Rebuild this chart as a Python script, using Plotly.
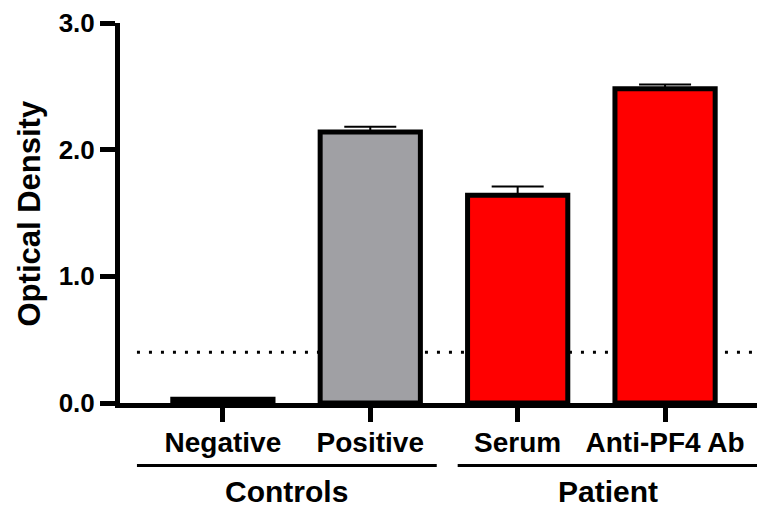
import plotly.graph_objects as go

# ---- data ----
categories = ["Negative", "Positive", "Serum", "Anti-PF4 Ab"]
od_values = [0.03, 2.14, 1.64, 2.48]
od_errors = [0.0, 0.04, 0.07, 0.035]
bar_colors = ["#A0A0A4", "#A0A0A4", "#FF0000", "#FF0000"]
group_labels = ["Controls", "Patient"]
cutoff = 0.4
y_tick_vals = [0, 1, 2, 3]
y_tick_text = ["0.0", "1.0", "2.0", "3.0"]

FONT = "Arial, Liberation Sans, Helvetica, sans-serif"
OFF = 8  # page body margin
W, H = 765 - OFF, 506 - OFF
ML, MT, MB = 120 - OFF, 20 - OFF, H - (403 - OFF)
PH = H - MT - MB
PW = W - ML

def py2paper(page_y):
    return (H - MB - (page_y - OFF)) / PH

def px2paper(page_x):
    return (page_x - OFF - ML) / PW

fig = go.Figure()
fig.add_trace(go.Bar(
    x=categories, y=od_values,
    width=0.68,
    marker=dict(color=bar_colors, line=dict(color="black", width=5)),
    error_y=dict(type="data", array=od_errors, arrayminus=[0]*len(od_errors),
                 symmetric=False, color="black", thickness=2, width=26),
    showlegend=False,
))

shapes = [
    dict(type="line", xref="x", yref="y", x0=-0.583, x1=3.7, y0=cutoff, y1=cutoff,
         line=dict(color="black", width=3, dash="3px,9px"), layer="below"),
    dict(type="line", xref="x", yref="paper", x0=-0.583, x1=1.451,
         y0=py2paper(466), y1=py2paper(466), line=dict(color="black", width=3)),
    dict(type="line", xref="x", yref="paper", x0=1.593, x1=3.627,
         y0=py2paper(466), y1=py2paper(466), line=dict(color="black", width=3)),
]

annotations = [
    dict(text=group_labels[0], xref="x", yref="paper", x=0.434, y=py2paper(492),
         showarrow=False, xanchor="center", yanchor="middle",
         font=dict(family=FONT, size=30, color="black", weight="bold")),
    dict(text=group_labels[1], xref="x", yref="paper", x=2.61, y=py2paper(492),
         showarrow=False, xanchor="center", yanchor="middle",
         font=dict(family=FONT, size=30, color="black", weight="bold")),
    dict(text="Optical Density", xref="paper", yref="paper",
         x=px2paper(29), y=py2paper(212), textangle=-90,
         showarrow=False, xanchor="center", yanchor="middle",
         font=dict(family=FONT, size=31, color="black", weight="bold")),
]

fig.update_layout(
    width=W, height=H,
    margin=dict(l=ML, r=0, t=MT, b=MB, pad=0),
    paper_bgcolor="white", plot_bgcolor="white",
    shapes=shapes, annotations=annotations,
    xaxis=dict(
        type="category", range=[-0.698, 3.678],
        showline=True, linecolor="black", linewidth=5,
        ticks="outside", ticklen=14, tickwidth=4.5, tickcolor="black",
        showgrid=False, zeroline=False, ticklabelstandoff=-4,
        ticklabeloverflow="allow",
        tickfont=dict(family=FONT, size=28, color="black", weight="bold"),
    ),
    yaxis=dict(
        range=[0, 3], tickvals=y_tick_vals, ticktext=y_tick_text,
        showline=True, linecolor="black", linewidth=5,
        ticks="outside", ticklen=15, tickwidth=4.5, tickcolor="black",
        showgrid=False, zeroline=False, ticklabeloverflow="allow",
        tickfont=dict(family=FONT, size=26, color="black", weight="bold"),
    ),
)

fig.write_html("out.html")
